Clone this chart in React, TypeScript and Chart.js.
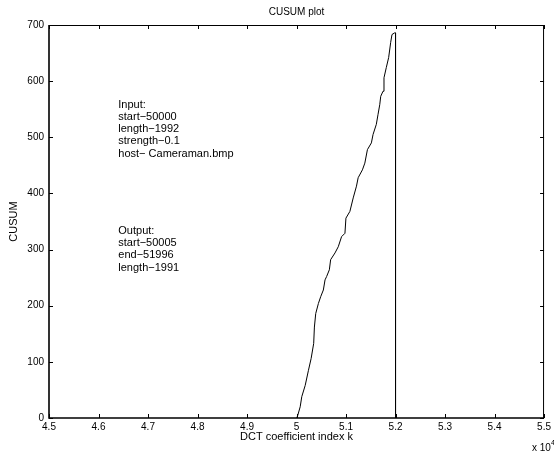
import React, { useEffect, useRef } from "react";
import { Chart, registerables } from "chart.js";

Chart.register(...registerables);

// ---- data ----
const coeffIndex = [
  50005, 50026, 50074, 50106, 50175, 50241, 50295, 50347, 50361, 50388,
  50442, 50488, 50542, 50576, 50608, 50663, 50689, 50777, 50843, 50910,
  50978, 50998, 51078, 51145, 51211, 51245, 51331, 51380, 51432, 51512,
  51546, 51612, 51647, 51681, 51701, 51747, 51767, 51813, 51861, 51902,
  51928, 51982, 52000, 52000,
];
const cusumValues = [
  0, 5, 20, 38, 58, 85, 106, 133, 162, 186,
  204, 216, 228, 246, 252, 264, 282, 294, 305, 323,
  329, 356, 368, 392, 413, 428, 442, 454, 478, 490,
  505, 523, 541, 558, 573, 582, 606, 624, 642, 669,
  683, 686, 686, 0,
];
const xTickValues = [45000, 46000, 47000, 48000, 49000, 50000, 51000, 52000, 53000, 54000, 55000];
const yTickValues = [0, 100, 200, 300, 400, 500, 600, 700];

const titleText = "CUSUM plot";
const xAxisLabel = "DCT coefficient index k";
const yAxisLabel = "CUSUM";
const xExponentBase = "x 10";
const xExponent = "4";

const inputNotes = ["Input:", "start\u221250000", "length\u22121992", "strength\u22120.1", "host\u2212 Cameraman.bmp"];
const inputNotesAt = { x: 46400, y: 558 };
const outputNotes = ["Output:", "start\u221250005", "end\u221251996", "length\u22121991"];
const outputNotesAt = { x: 46400, y: 333 };

const FONT = "Liberation Sans, Arial, Helvetica, sans-serif";

const framePlugin = {
  id: "matlabFrame",
  afterDraw(chart: any) {
    const { ctx, chartArea: a, scales } = chart;
    const xs = scales.x;
    const ys = scales.y;
    ctx.save();
    ctx.strokeStyle = "#000";
    // box
    ctx.lineWidth = 1;
    ctx.beginPath();
    ctx.moveTo(a.left, a.top + 0.5);
    ctx.lineTo(a.right, a.top + 0.5);
    ctx.moveTo(a.right - 0.5, a.top);
    ctx.lineTo(a.right - 0.5, a.bottom);
    ctx.stroke();
    ctx.lineWidth = 1.6;
    ctx.beginPath();
    ctx.moveTo(a.left, a.top);
    ctx.lineTo(a.left, a.bottom);
    ctx.lineTo(a.right, a.bottom);
    ctx.stroke();
    // inner ticks
    ctx.lineWidth = 1;
    const tl = 4;
    ctx.beginPath();
    xTickValues.forEach((v) => {
      const px = Math.round(xs.getPixelForValue(v)) + 0.5;
      ctx.moveTo(px, a.bottom);
      ctx.lineTo(px, a.bottom - tl);
      ctx.moveTo(px, a.top);
      ctx.lineTo(px, a.top + tl);
    });
    yTickValues.forEach((v) => {
      const py = Math.round(ys.getPixelForValue(v)) + 0.5;
      ctx.moveTo(a.left, py);
      ctx.lineTo(a.left + tl, py);
      ctx.moveTo(a.right, py);
      ctx.lineTo(a.right - tl, py);
    });
    ctx.stroke();

    // texts
    ctx.fillStyle = "#000";
    ctx.font = `10px ${FONT}`;
    ctx.textAlign = "center";
    ctx.textBaseline = "middle";
    ctx.fillText(titleText, (a.left + a.right) / 2, 12);
    ctx.font = `11px ${FONT}`;
    ctx.fillText(xAxisLabel, (a.left + a.right) / 2, 437);
    ctx.save();
    ctx.translate(14, (a.top + a.bottom) / 2);
    ctx.rotate(-Math.PI / 2);
    ctx.fillText(yAxisLabel, 0, 0);
    ctx.restore();

    ctx.textAlign = "left";
    ctx.font = `10px ${FONT}`;
    ctx.fillText(xExponentBase, 532, 448);
    ctx.font = `7px ${FONT}`;
    ctx.fillText(xExponent, 551, 443);

    ctx.font = `11px ${FONT}`;
    const drawNotes = (lines: string[], at: { x: number; y: number }) => {
      const x0 = xs.getPixelForValue(at.x);
      const y0 = ys.getPixelForValue(at.y);
      lines.forEach((t, i) => ctx.fillText(t, x0, y0 + i * 12.2));
    };
    drawNotes(inputNotes, inputNotesAt);
    drawNotes(outputNotes, outputNotesAt);
    ctx.restore();
  },
};

export default function App() {
  const canvasRef = useRef<HTMLCanvasElement | null>(null);

  useEffect(() => {
    document.body.style.margin = "0";
    const canvas = canvasRef.current;
    if (!canvas) return;
    const fmtX = (v: number) => String(Number((v / 10000).toFixed(1)));
    const chart = new Chart(canvas, {
      type: "line",
      data: {
        datasets: [
          {
            data: coeffIndex.map((x, i) => ({ x, y: cusumValues[i] })),
            borderColor: "#000",
            borderWidth: 1,
            pointRadius: 0,
            tension: 0,
            fill: false,
          },
        ],
      },
      options: {
        animation: false,
        responsive: false,
        devicePixelRatio: 1,
        layout: { padding: { top: 25, right: 7, left: 0, bottom: 0 } },
        plugins: { legend: { display: false }, tooltip: { enabled: false }, title: { display: false } },
        scales: {
          x: {
            type: "linear",
            min: 45000,
            max: 55000,
            afterBuildTicks: (s: any) => {
              s.ticks = xTickValues.map((value) => ({ value }));
            },
            afterFit: (s: any) => {
              s.height = 35;
            },
            grid: { display: false, drawTicks: false },
            border: { display: false },
            ticks: {
              autoSkip: false,
              maxRotation: 0,
              padding: 3,
              color: "#000",
              font: { family: FONT, size: 10 },
              callback: (v: any) => fmtX(Number(v)),
            },
          },
          y: {
            type: "linear",
            min: 0,
            max: 700,
            afterBuildTicks: (s: any) => {
              s.ticks = yTickValues.map((value) => ({ value }));
            },
            afterFit: (s: any) => {
              s.width = 49;
            },
            grid: { display: false, drawTicks: false },
            border: { display: false },
            ticks: {
              padding: 5,
              color: "#000",
              font: { family: FONT, size: 10 },
              callback: (v: any) => String(v),
            },
          },
        },
      },
      plugins: [framePlugin],
    } as any);
    return () => chart.destroy();
  }, []);

  return (
    <div style={{ position: "absolute", left: 0, top: 0, width: 554, height: 453, background: "#fff" }}>
      <canvas ref={canvasRef} width={554} height={453} />
    </div>
  );
}
